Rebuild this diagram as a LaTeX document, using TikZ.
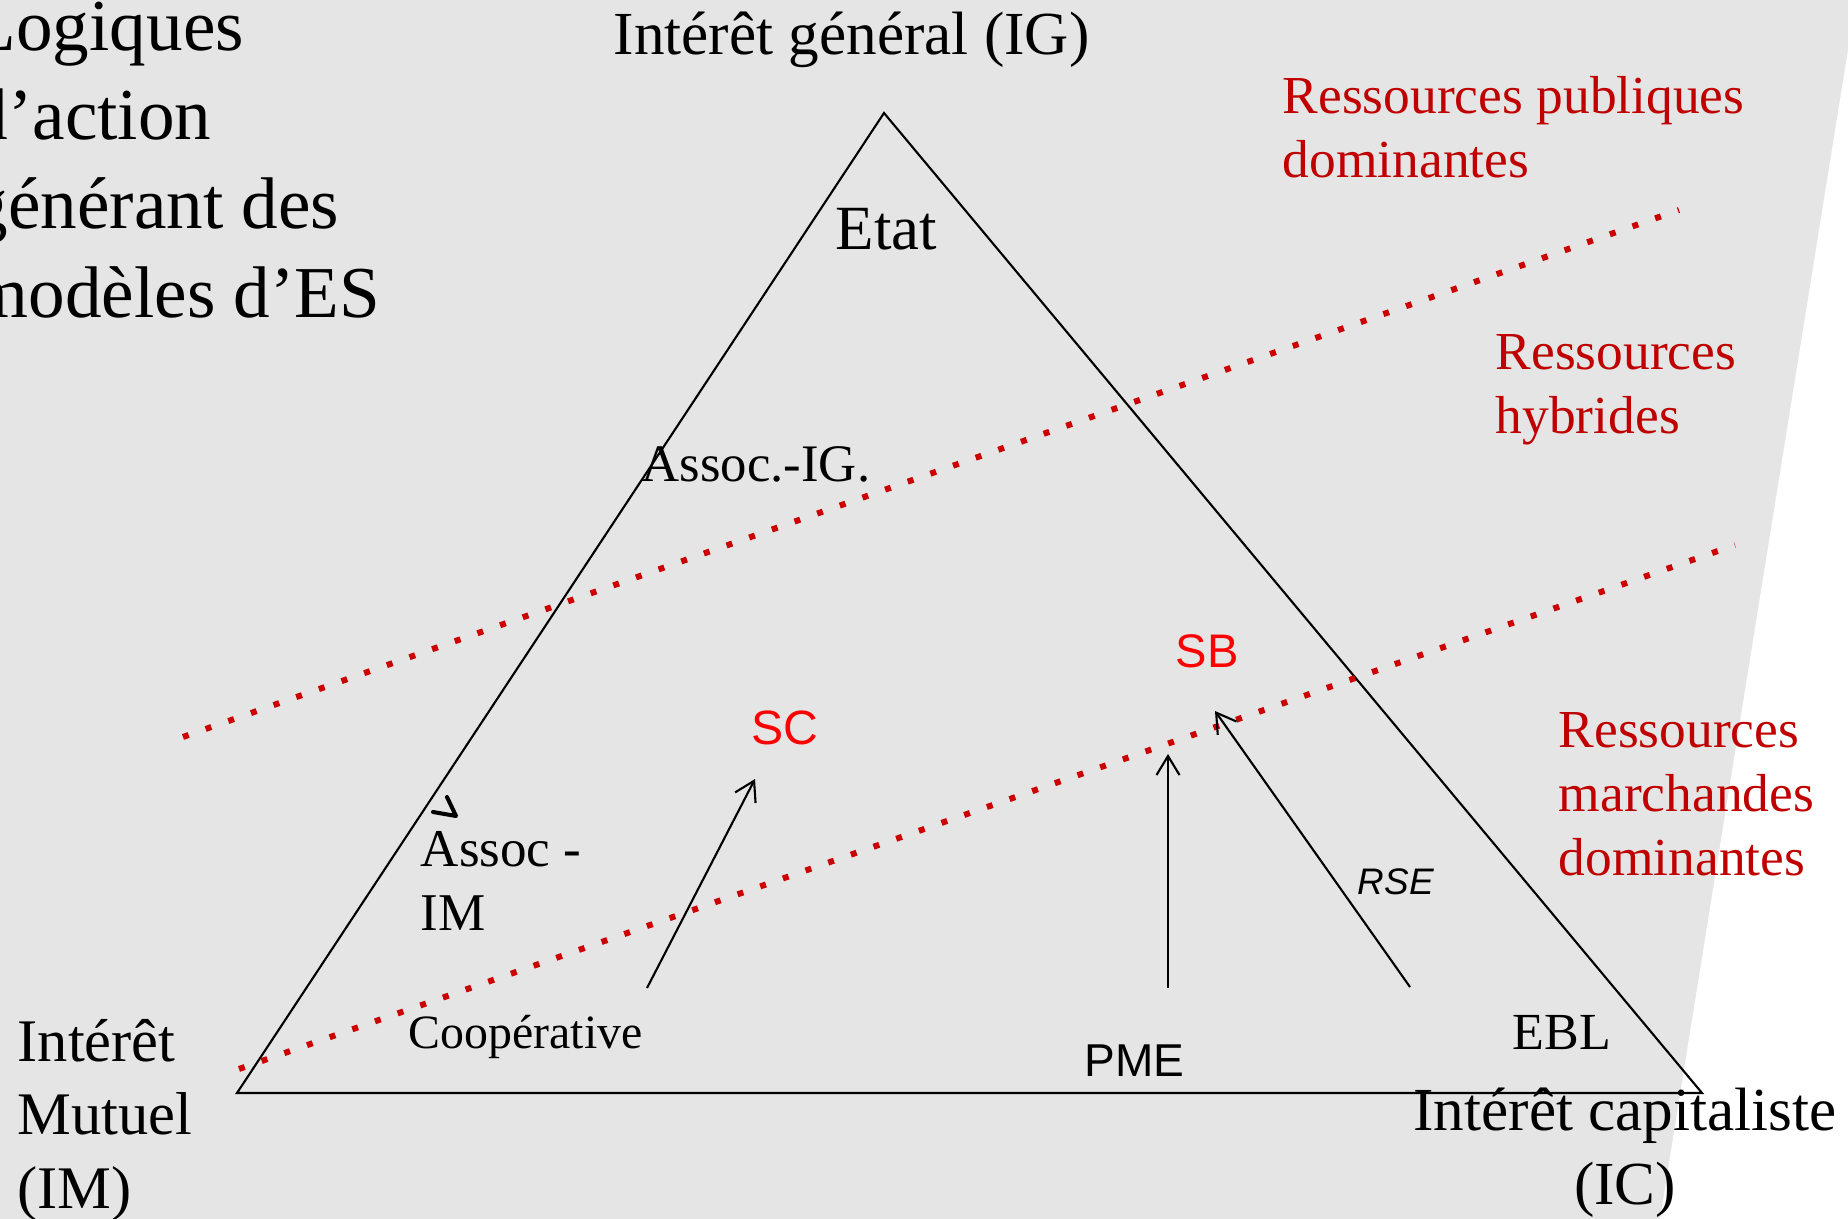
\documentclass[tikz,border=0pt]{standalone}
\usepackage{fontspec}
\setmainfont{Liberation Serif}
\setsansfont{Liberation Sans}
\usetikzlibrary{arrows.meta}
\definecolor{bgray}{RGB}{229,229,229}
\definecolor{resred}{RGB}{192,0,0}
\definecolor{dotred}{RGB}{204,0,0}

\begin{document}
\begin{tikzpicture}[x=0.01cm,y=-0.01cm,
    lbl/.style={inner sep=0pt,anchor=base west},
    res/.style={lbl,align=left,text=resred,font=\fontsize{15.2pt}{18.2pt}\selectfont},
    entr/.style={lbl,text=red,font=\sffamily\fontsize{13.4pt}{16pt}\selectfont},
    reddots/.style={dotred,line width=0.06cm,dash pattern=on 0.06cm off 0.18cm},
    flow/.style={line width=0.6pt,-{Straight Barb[length=1.9mm,width=2.3mm]}}]
          \useasboundingbox (0,0) rectangle (1848,1219);
          \clip (0,0) rectangle (1848,1219);
          \fill[bgray] (0,0) rectangle (1848,1219);
          \fill[white] (1848,50) -- (1660,1219) -- (1848,1219) -- cycle;

          \coordinate (ig) at (884,113);
          \coordinate (im) at (237,1093);
          \coordinate (ic) at (1702,1093);
          \draw[line width=0.6pt] (ig) -- (im) -- (ic) -- cycle;

          \coordinate (h1) at (183,737);
          \coordinate (h2) at (1679,210);
          \coordinate (m1) at (239,1069);
          \coordinate (m2) at (1735,545);
          \draw[reddots] (h1) -- (h2);
          \draw[reddots] (m1) -- (m2);

          \node[lbl,align=left,font=\fontsize{20.8pt}{25.4pt}\selectfont] (titre) at (-29,318) {Logiques\\d’action\\générant des\\modèles d’ES};
          \node[lbl,font=\fontsize{17.4pt}{21pt}\selectfont] (igtxt) at (613,55) {Intérêt général (IG)};
          \node[lbl,font=\fontsize{17.9pt}{21pt}\selectfont] (etat) at (835,250) {Etat};
          \node[lbl,font=\fontsize{15pt}{18pt}\selectfont] (associg) at (641,482) {Assoc.-IG.};
          \node[lbl,align=left,font=\fontsize{15.1pt}{18.2pt}\selectfont] (associm) at (420,931) {Assoc -\\IM};
          \node[lbl,font=\fontsize{13.6pt}{16pt}\selectfont] (coop) at (408,1048) {Coopérative};
          \node[lbl,align=left,font=\fontsize{17.2pt}{20.9pt}\selectfont] (imtxt) at (17,1208) {Intérêt\\Mutuel\\(IM)};
          \node[lbl,font=\fontsize{14.8pt}{18pt}\selectfont] (ebl) at (1512,1049) {EBL};
          \node[inner sep=0pt,anchor=base,align=center,font=\fontsize{17.4pt}{21pt}\selectfont] (ictxt) at (1625,1204) {Intérêt capitaliste\\(IC)};

          \node[res] (publ) at (1282,178) {Ressources publiques\\dominantes};
          \node[res] (hybr) at (1495,434) {Ressources\\hybrides};
          \node[res] (march) at (1558,876) {Ressources\\marchandes\\dominantes};

          \node[entr,font=\sffamily\fontsize{13.7pt}{16pt}\selectfont] (sc) at (751,745) {SC};
          \node[entr] (sb) at (1175,668) {SB};
          \node[lbl,font=\sffamily\fontsize{13.1pt}{16pt}\selectfont] (pme) at (1084,1077) {PME};
          \node[lbl,font=\sffamily\itshape\fontsize{10.5pt}{13pt}\selectfont] (rse) at (1357,895) {RSE};

          \coordinate (coopa) at (647,988);
          \coordinate (coopb) at (755,779);
          \coordinate (pmea) at (1168,988);
          \coordinate (pmeb) at (1168,754);
          \coordinate (ebla) at (1410,987);
          \coordinate (eblb) at (1215,711);
          \draw[flow] (coopa) -- (coopb);
          \draw[flow] (pmea) -- (pmeb);
          \draw[flow] (ebla) -- (eblb);

          \draw[line width=1.15pt,line cap=round,line join=round] (447,797) -- (456,816) -- (433,812);
\end{tikzpicture}
\end{document}
